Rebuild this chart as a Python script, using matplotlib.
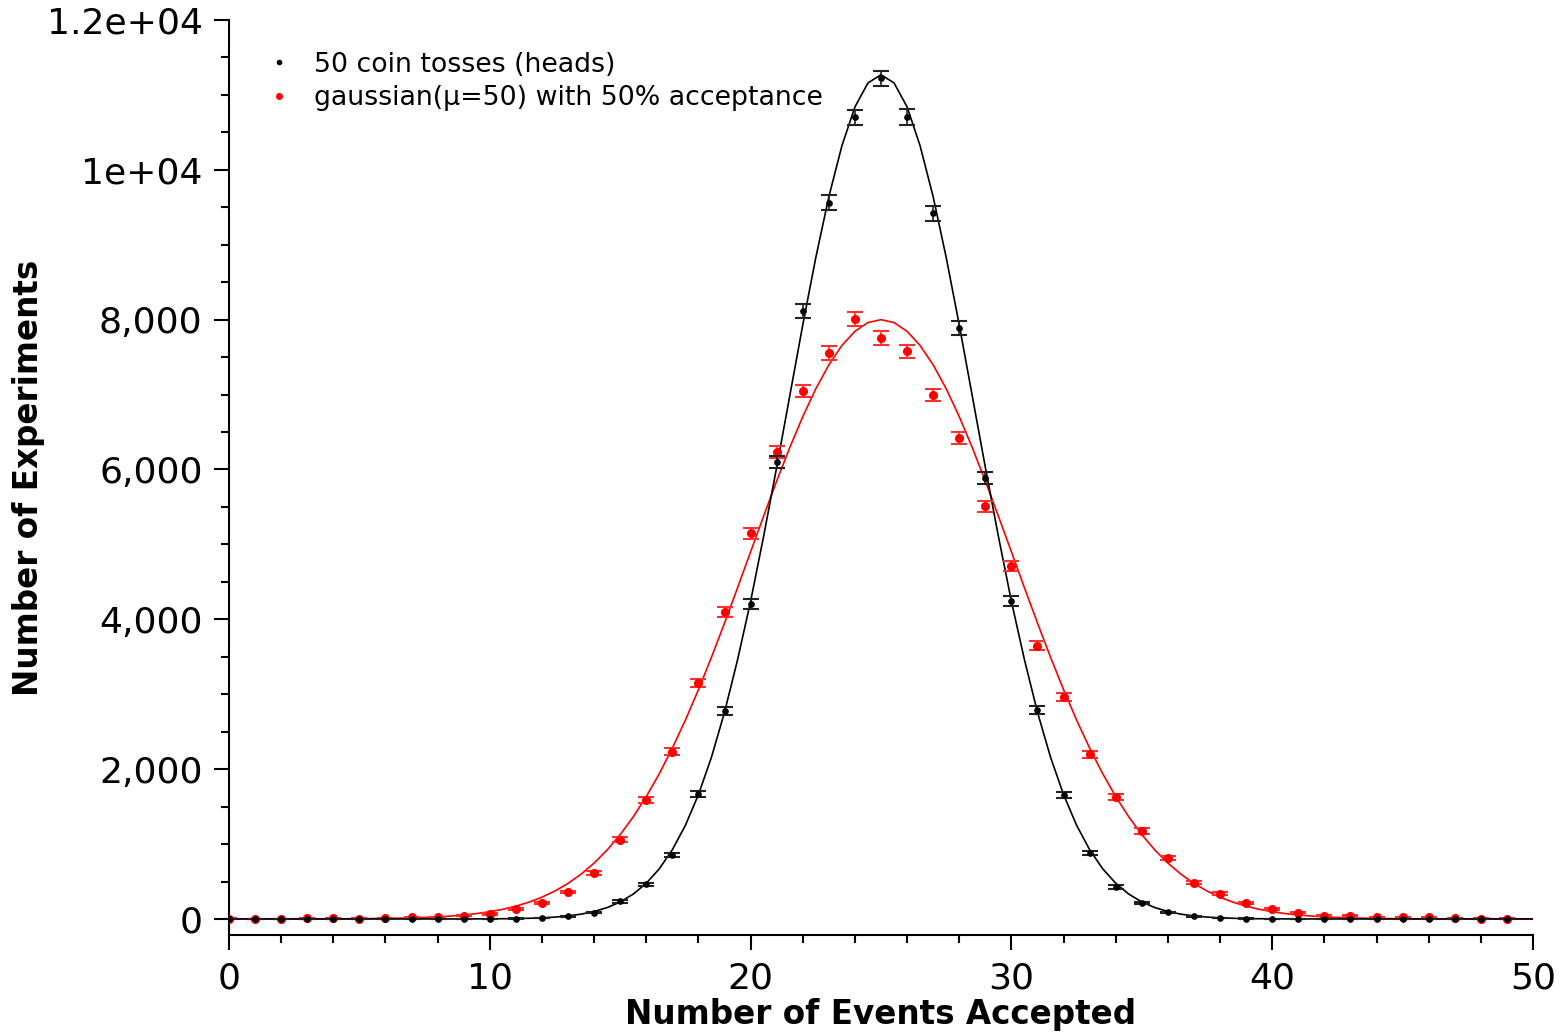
import numpy as np
import matplotlib
matplotlib.use("Agg")
import matplotlib.pyplot as plt
from matplotlib.lines import Line2D
from matplotlib.ticker import MultipleLocator, FixedLocator, FixedFormatter

# === Data ===
accepted = np.arange(0, 50)

coin_counts = [0, 0, 0, 0, 0, 0, 0, 0, 0, 0,
               2, 5, 12, 35, 85, 235, 465, 855, 1668, 2776,
               4204, 6100, 8115, 9560, 10700, 11220, 10705, 9420, 7888, 5886,
               4244, 2790, 1655, 880, 427, 214, 90, 35, 12, 5,
               2, 0, 0, 0, 0, 0, 0, 0, 0, 0]

gauss_counts = [5, 3, 4, 8, 10, 6, 10, 20, 25, 40,
                67, 130, 210, 360, 615, 1055, 1590, 2230, 3150, 4100,
                5150, 6230, 7050, 7555, 8010, 7755, 7580, 6995, 6420, 5510,
                4710, 3645, 2965, 2200, 1630, 1175, 815, 485, 335, 210,
                130, 85, 45, 40, 25, 20, 20, 15, 5, 5]

# fitted curves, sampled every half unit from 0 to 50
fit_x = np.arange(0, 50.5, 0.5)

coin_fit = [0, 0, 0, 0, 0, 0, 0, 0, 0, 0, 0, 0, 0, 0, 0, 0, 0, 0, 0,
            1, 2, 3, 5, 9, 15, 25, 41, 64, 100, 152, 227, 332, 477, 670,
            925, 1250, 1660, 2160, 2760, 3460, 4240, 5110, 6030, 6980,
            7930, 8830, 9640, 10320, 10840, 11160,
            11270,
            11160, 10840, 10320, 9640, 8830, 7930, 6980, 6030, 5110, 4240,
            3460, 2760, 2160, 1660, 1250, 925, 670, 477, 332, 227, 152, 100,
            64, 41, 25, 15, 9, 5, 3, 2, 1,
            0, 0, 0, 0, 0, 0, 0, 0, 0, 0, 0, 0, 0, 0, 0, 0, 0, 0, 0]

gauss_fit = [0, 0, 0, 0, 0, 0, 0, 0,
             1, 2, 3, 5, 7, 10, 14, 20, 28, 39, 53, 72, 97, 129, 171,
             224, 291, 373, 475, 598, 746, 921, 1126, 1363, 1634, 1940,
             2281, 2655, 3061, 3494, 3950, 4421, 4901, 5378, 5846, 6292,
             6706, 7078, 7397, 7655, 7845, 7961,
             8000,
             7961, 7845, 7655, 7397, 7078, 6706, 6292, 5846, 5378, 4901,
             4421, 3950, 3494, 3061, 2655, 2281, 1940, 1634, 1363, 1126,
             921, 746, 598, 475, 373, 291, 224, 171, 129, 97, 72, 53, 39,
             28, 20, 14, 10, 7, 5, 3, 2, 1,
             0, 0, 0, 0, 0, 0, 0, 0]

coin_label = "50 coin tosses (heads)"
gauss_label = "gaussian(\u03bc=50) with 50% acceptance"

y_ticks = [0, 2000, 4000, 6000, 8000, 10000, 12000]
y_tick_labels = ["0", "2,000", "4,000", "6,000", "8,000", "1e+04", "1.2e+04"]

# Poisson errors on the counts
coin_err = np.sqrt(coin_counts)
gauss_err = np.sqrt(gauss_counts)

plt.rcParams['font.family'] = ['DejaVu Sans']

fig = plt.figure(figsize=(15.6, 10.32), dpi=100)
ax = fig.add_axes([0.1468, 0.094, 0.8359, 0.8866])

ax.plot(fit_x, gauss_fit, color="#ff0000", linewidth=1.2, zorder=2)
ax.plot(fit_x, coin_fit, color="black", linewidth=1.2, zorder=2)

ax.errorbar(accepted, gauss_counts, yerr=gauss_err, fmt="o", color="#ff0000",
            markersize=5.5, elinewidth=1.2, capsize=6, capthick=1.5,
            ecolor="#ff3030", zorder=3)
ax.errorbar(accepted, coin_counts, yerr=coin_err, fmt="o", color="black",
            markersize=3.8, elinewidth=1.2, capsize=6, capthick=1.5,
            ecolor="#222222", zorder=4)

ax.set_xlim(0, 50)
ax.set_ylim(-214, 12000)

for side in ["top", "right"]:
    ax.spines[side].set_visible(False)
ax.spines["left"].set_linewidth(1.5)
ax.spines["bottom"].set_linewidth(1.5)
ax.spines["left"].set_bounds(-190, 12000)

ax.xaxis.set_major_locator(MultipleLocator(10))
ax.xaxis.set_minor_locator(MultipleLocator(2))
ax.yaxis.set_major_locator(FixedLocator(y_ticks))
ax.yaxis.set_major_formatter(FixedFormatter(y_tick_labels))
ax.yaxis.set_minor_locator(MultipleLocator(500))

ax.tick_params(axis="both", which="major", length=11, width=1.5,
               labelsize=26, direction="out", pad=8)
ax.tick_params(axis="both", which="minor", length=6, width=1.5,
               direction="out")

ax.set_xlabel("Number of Events Accepted", fontsize=23.5, fontweight="bold",
              labelpad=2)
ax.set_ylabel("Number of Experiments", fontsize=23.5, fontweight="bold")
ax.yaxis.set_label_coords(-0.141, 0.5)

handles = [Line2D([], [], marker="o", linestyle="none", color="black",
                  markersize=3),
           Line2D([], [], marker="o", linestyle="none", color="#ff0000",
                  markersize=4)]
ax.legend(handles, [coin_label, gauss_label], loc="upper left",
          bbox_to_anchor=(0.02, 0.977), frameon=False, fontsize=19.3,
          handlelength=1.0, handletextpad=0.8, labelspacing=0.28,
          borderaxespad=0)

fig.savefig("out.png", dpi=100)
